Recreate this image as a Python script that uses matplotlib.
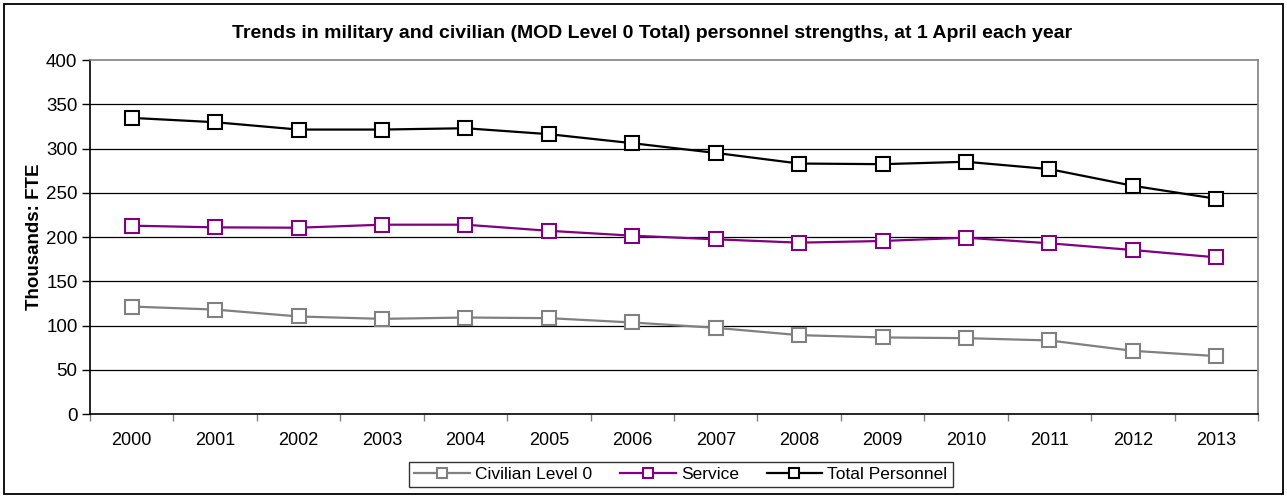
import matplotlib.pyplot as plt
import numpy as np
from matplotlib.patches import Rectangle

years = ['2000', '2001', '2002', '2003', '2004', '2005', '2006',
         '2007', '2008', '2009', '2010', '2011', '2012', '2013']
civilian = [121.4, 118.0, 110.2, 107.5, 109.0, 108.3, 103.4,
            97.4, 89.1, 86.5, 85.7, 83.1, 71.4, 65.4]
service = [212.8, 210.9, 210.5, 213.9, 213.9, 207.0, 201.5,
           197.4, 193.6, 195.5, 199.2, 192.9, 185.3, 177.0]
total = [334.6, 329.7, 321.4, 321.4, 322.9, 316.2, 306.0,
         295.0, 283.0, 282.3, 285.0, 276.7, 257.9, 243.2]

plt.rcParams['font.family'] = ['Liberation Sans', 'DejaVu Sans']

fig = plt.figure(figsize=(12.87, 4.98), dpi=100)
ax = fig.add_axes([90 / 1287, 1 - 414 / 498, (1258 - 90) / 1287, (414 - 60) / 498])

x = np.arange(len(years))
style = dict(marker='s', markersize=9.5, markerfacecolor='white',
             markeredgewidth=1.5, linewidth=1.6)
ax.plot(x, civilian, color='#808080', markeredgecolor='#808080',
        label='Civilian Level 0', **style)
ax.plot(x, service, color='#800080', markeredgecolor='#800080',
        label='Service', **style)
ax.plot(x, total, color='black', markeredgecolor='black',
        label='Total Personnel', **style)

ax.set_xlim(-0.5, len(years) - 0.5)
ax.set_ylim(0, 400)
ax.set_yticks(np.arange(0, 401, 50))
ax.tick_params(axis='y', labelsize=13.5, length=6, direction='out', width=1, pad=3)

# ticks between categories, labels at centres
ax.set_xticks(np.arange(-0.5, len(years), 1))
ax.set_xticklabels([])
ax.set_xticks(x, minor=True)
ax.set_xticklabels(years, minor=True)
ax.tick_params(axis='x', which='major', length=5, color='#808080', width=1)
ax.tick_params(axis='x', which='minor', length=0, labelsize=13, pad=13)

for v in range(50, 400, 50):
    ax.axhline(v, color='black', linewidth=0.9, zorder=0)

ax.spines['left'].set_color('black')
ax.spines['bottom'].set_color('black')
ax.spines['top'].set_color('#808080')
ax.spines['right'].set_color('#808080')
for s in ax.spines.values():
    s.set_linewidth(1.2)

ax.set_ylabel('Thousands: FTE', fontsize=13.5, fontweight='bold', labelpad=2)
fig.text(652 / 1287, 1 - 33 / 498,
         'Trends in military and civilian (MOD Level 0 Total) personnel strengths, at 1 April each year',
         ha='center', va='center', fontsize=14, fontweight='bold')

leg = fig.legend(loc='center', bbox_to_anchor=(681 / 1287, 1 - 474.5 / 498),
                 ncol=3, fontsize=12.5, frameon=True, fancybox=False,
                 edgecolor='black', handlelength=3.2, columnspacing=1.6,
                 borderpad=0.3, handletextpad=0.3, markerscale=0.8)
leg.get_frame().set_linewidth(1.0)

fig.patches.append(Rectangle((4 / 1287, 4 / 498), 1279 / 1287, 490 / 498,
                             transform=fig.transFigure, fill=False,
                             edgecolor='black', linewidth=1.3))

fig.savefig('out.png', dpi=100)
